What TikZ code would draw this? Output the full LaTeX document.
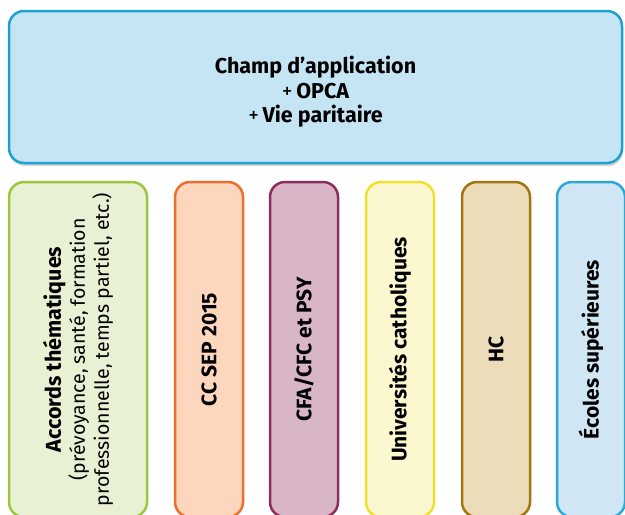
\documentclass[tikz,border=0pt]{standalone}
\usepackage{fontspec}
\setmainfont{Fira Sans}
\usepackage{xcolor}
\usepackage{tikz}
\usetikzlibrary{shadows}

\definecolor{champfill}{HTML}{C5E4F4}
\definecolor{champline}{HTML}{1BA1D2}
\definecolor{accfill}{HTML}{E8F1D3}
\definecolor{accline}{HTML}{9DC63F}
\definecolor{ccfill}{HTML}{FDD6BE}
\definecolor{ccline}{HTML}{EE6F2D}
\definecolor{cfafill}{HTML}{D9B6C7}
\definecolor{cfaline}{HTML}{8B2D5E}
\definecolor{univfill}{HTML}{FBF7CF}
\definecolor{univline}{HTML}{EEE22E}
\definecolor{hcfill}{HTML}{EDDCBA}
\definecolor{hcline}{HTML}{A0760F}
\definecolor{ecofill}{HTML}{D0E6F4}
\definecolor{ecoline}{HTML}{2BA8D6}

\newcommand{\tightlines}{\setlength{\lineskiplimit}{-10pt}}

\tikzset{
  pbox/.style={draw, rounded corners=15pt, line width=2.5pt, inner sep=0pt,
    align=center, font=\fontsize{21.5}{24.5}\selectfont\tightlines},
  colbox/.style={pbox, rotate=90, minimum width=335pt, minimum height=68pt,
    font=\fontsize{21}{24}\selectfont\bfseries\tightlines}
}

\begin{document}
\begin{tikzpicture}[x=1pt,y=-1pt]
                            \useasboundingbox (0,0) rectangle (625,515);
                            \clip (0,0) rectangle (625,515);
                            % bandeau du haut
                            \node[pbox, fill=champfill, draw=champline,
                                  minimum width=613pt, minimum height=152pt,
                                  drop shadow={shadow xshift=1pt, shadow yshift=-3pt, opacity=0.35, fill=gray}]
                                  (champ) at (315.5,87) {};
                            \node[align=center, font=\fontsize{21.5}{24.5}\selectfont\bfseries]
                                  (champtext) at (315.5,92)
                                  {Champ d'application\\{\mdseries +}\,OPCA\\{\mdseries +}\,Vie paritaire};
                            % colonnes
                            \node[colbox, fill=accfill, draw=accline, minimum height=138pt]
                                  (accords) at (78,349.5)
                                  {\fontsize{21.5}{24}\selectfont Accords thématiques\\\fontsize{19.5}{24}\selectfont\mdseries(prévoyance, santé, formation\\\fontsize{19.5}{24}\selectfont\mdseries professionnelle, temps partiel, etc.)};
                            \node[colbox, fill=ccfill, draw=ccline] (ccsep) at (209,349.5) {CC SEP 2015};
                            \node[colbox, fill=cfafill, draw=cfaline] (cfa) at (304,349.5) {CFA/CFC et PSY};
                            \node[colbox, fill=univfill, draw=univline] (univ) at (400,349.5) {Universités catholiques};
                            \node[colbox, fill=hcfill, draw=hcline] (hc) at (496,349.5) {HC};
                            \node[colbox, fill=ecofill, draw=ecoline] (ecoles) at (591,349.5) {Écoles supérieures};
                        \end{tikzpicture}
\end{document}
